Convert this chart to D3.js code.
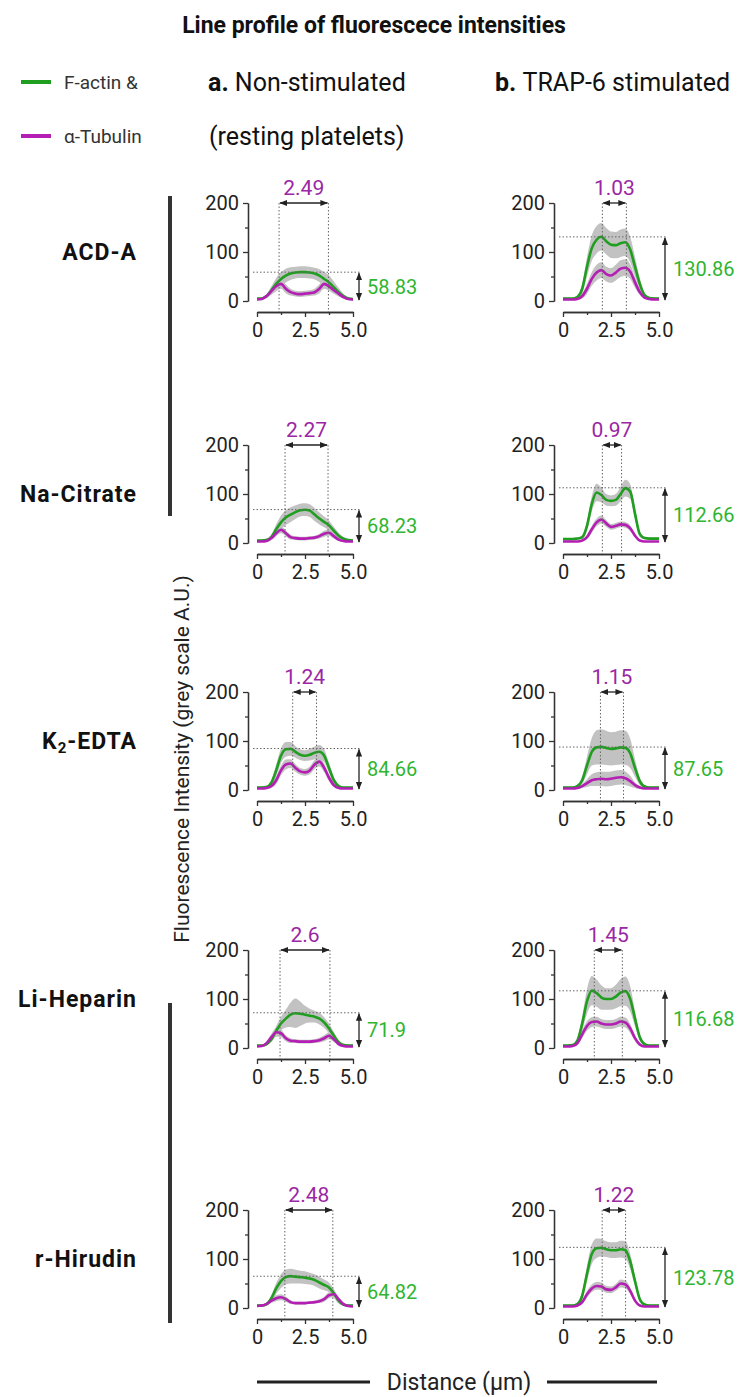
<!DOCTYPE html>
<html><head><meta charset="utf-8">
<script src="https://cdn.jsdelivr.net/npm/d3@7"></script>
<style>body{margin:0;background:#fff} svg{display:block;font-family:Roboto,"Noto Sans",sans-serif}</style>
</head><body><svg id="c" width="747" height="1397"></svg>
<script>
// ---------- data ----------
const distance = [0,0.25,0.5,0.75,1,1.25,1.5,1.75,2,2.25,2.5,2.75,3,3.25,3.5,3.75,4,4.25,4.5,4.75,5];
const anticoagulants = ["ACD-A","Na-Citrate","K2-EDTA","Li-Heparin","r-Hirudin"];
const columnTitles = ["Non-stimulated","TRAP-6 stimulated"];
const yTicks = [0,100,200];
const yMinorTicks = [50,150];
const xTicks = [0,2.5,5];
const xMinorTicks = [1.25,3.75];

// a. non-stimulated
const aACD_actin   = [5,5,10,22,35,45,52,56,58,59,59,58,56,52,45,38,28,18,10,5,4];
const aACD_actinSD = [2,2,4,8,12,14,14,13,12,12,12,12,12,13,14,14,12,9,5,3,2];
const aACD_tub     = [3,4,10,20,30,35,25,18,15,14,15,16,18,25,35,30,22,15,8,4,3];
const aACD_tubSD   = [2,2,4,7,10,10,9,7,6,6,6,6,7,9,10,9,7,5,3,2,2];
const aCIT_actin   = [5,5,6,12,28,42,52,58,63,67,68,66,58,50,43,36,25,15,9,6,5];
const aCIT_actinSD = [2,2,3,6,10,14,15,15,14,13,13,13,13,12,11,10,8,6,4,2,2];
const aCIT_tub     = [3,3,4,10,20,27,20,12,10,9,9,10,11,14,19,21,14,7,4,3,3];
const aCIT_tubSD   = [1,1,2,4,6,7,6,5,4,4,4,4,4,5,6,6,5,3,2,1,1];
const aEDT_actin   = [5,5,6,15,40,70,83,84,78,72,70,72,76,78,70,45,20,8,5,5,5];
const aEDT_actinSD = [2,2,3,6,12,15,15,14,12,11,11,12,13,14,13,10,7,4,2,2,2];
const aEDT_tub     = [3,3,4,8,20,40,52,54,45,38,36,40,52,58,45,25,10,4,3,3,3];
const aEDT_tubSD   = [1,1,2,4,8,10,10,9,8,7,7,8,9,10,9,7,4,2,1,1,1];
const aHEP_actin   = [5,5,8,18,35,50,60,68,71,70,68,66,64,60,52,40,25,12,6,5,5];
const aHEP_actinSD = [2,2,3,6,10,14,18,25,30,25,18,14,12,12,11,10,8,5,3,2,2];
const aHEP_tub     = [3,4,10,22,32,30,20,15,14,13,13,13,14,16,20,25,18,8,4,3,3];
const aHEP_tubSD   = [1,2,4,7,9,8,6,5,4,4,4,4,4,5,6,7,6,3,2,1,1];
const aHIR_actin   = [5,5,8,20,40,55,63,65,64,63,62,60,57,52,47,42,30,15,7,5,5];
const aHIR_actinSD = [2,2,3,7,11,14,15,15,14,13,13,12,12,12,11,10,9,6,3,2,2];
const aHIR_tub     = [4,5,8,15,20,22,18,12,10,10,10,11,12,14,18,26,28,18,8,4,3];
const aHIR_tubSD   = [2,2,3,5,6,6,5,4,3,3,3,3,3,4,5,6,6,5,3,2,2];

// b. TRAP-6 stimulated
const bACD_actin   = [5,5,5,8,25,70,108,125,131,122,115,114,118,120,105,70,35,12,6,5,5];
const bACD_actinSD = [2,2,2,4,10,20,26,28,28,27,27,27,28,28,26,20,12,5,2,2,2];
const bACD_tub     = [3,3,3,4,10,25,45,58,63,55,52,58,66,68,60,38,18,7,4,3,3];
const bACD_tubSD   = [1,1,1,2,5,10,14,16,16,15,15,16,17,17,15,11,6,3,1,1,1];
const bCIT_actin   = [8,8,8,9,12,35,80,103,98,88,86,88,100,112,105,60,18,10,9,9,9];
const bCIT_actinSD = [2,2,2,2,4,10,16,18,15,12,11,12,15,17,15,12,6,3,2,2,2];
const bCIT_tub     = [3,3,3,3,5,12,28,42,48,40,33,35,38,37,30,15,5,3,3,3,3];
const bCIT_tubSD   = [1,1,1,1,2,4,7,8,8,7,6,6,6,6,6,4,2,1,1,1,1];
const bEDT_actin   = [5,5,5,8,20,50,78,87,88,86,84,85,87,86,75,45,18,7,5,5,5];
const bEDT_actinSD = [2,2,2,3,8,18,28,35,36,35,34,34,35,35,30,18,8,3,2,2,2];
const bEDT_tub     = [3,3,3,4,8,14,20,22,23,22,23,25,26,24,18,10,5,3,3,3,3];
const bEDT_tubSD   = [1,1,1,2,4,8,12,14,15,15,15,15,15,14,11,6,3,1,1,1,1];
const bHEP_actin   = [5,5,6,15,50,95,117,112,103,100,100,105,113,116,100,60,22,8,5,5,5];
const bHEP_actinSD = [2,2,2,5,15,25,30,28,25,22,22,24,28,30,26,16,7,3,2,2,2];
const bHEP_tub     = [3,3,4,10,28,45,53,54,50,48,48,50,54,52,40,20,7,3,3,3,3];
const bHEP_tubSD   = [1,1,2,4,8,10,10,10,9,9,9,9,10,10,9,6,3,1,1,1,1];
const bHIR_actin   = [5,5,5,8,25,70,110,122,123,120,118,118,120,118,95,55,18,7,5,5,5];
const bHIR_actinSD = [2,2,2,3,8,16,20,20,18,16,16,16,17,18,16,10,5,2,2,2,2];
const bHIR_tub     = [3,3,3,5,12,28,40,45,44,38,37,42,50,48,35,15,5,3,3,3,3];
const bHIR_tubSD   = [1,1,1,2,4,7,8,8,8,7,7,7,8,8,7,4,2,1,1,1,1];

// tubulin peak positions (µm) and labelled distances
const peaksA = [[1.15,3.72],[1.46,3.7],[1.86,3.1],[1.2,3.8],[1.45,3.95]];
const peaksB = [[2.05,3.3],[2.05,3.05],[1.95,3.15],[1.63,3.09],[2.04,3.26]];
const widthLabelsA = ["2.49","2.27","1.24","2.6","2.48"];
const widthLabelsB = ["1.03","0.97","1.15","1.45","1.22"];
const maxActinA = [58.83,68.23,84.66,71.9,64.82];
const maxActinB = [130.86,112.66,87.65,116.68,123.78];

// ---------- build table ----------
const panels = [
  [aACD_actin,aACD_actinSD,aACD_tub,aACD_tubSD, bACD_actin,bACD_actinSD,bACD_tub,bACD_tubSD],
  [aCIT_actin,aCIT_actinSD,aCIT_tub,aCIT_tubSD, bCIT_actin,bCIT_actinSD,bCIT_tub,bCIT_tubSD],
  [aEDT_actin,aEDT_actinSD,aEDT_tub,aEDT_tubSD, bEDT_actin,bEDT_actinSD,bEDT_tub,bEDT_tubSD],
  [aHEP_actin,aHEP_actinSD,aHEP_tub,aHEP_tubSD, bHEP_actin,bHEP_actinSD,bHEP_tub,bHEP_tubSD],
  [aHIR_actin,aHIR_actinSD,aHIR_tub,aHIR_tubSD, bHIR_actin,bHIR_actinSD,bHIR_tub,bHIR_tubSD]
];

// ---------- layout ----------
const GREEN = "#1f9e1f", MAGENTA = "#b41eb4", GREEN_TXT = "#2fb52f", MAG_TXT = "#9a27a3", BAND = "#c2c2c2", INK = "#222";
const svg = d3.select("#c");
const rowTop = [203,445,692,950,1210];
const colX0 = [257,563];
const PW = 96, PH = 98;

svg.append("defs").append("marker")
  .attr("id","ah").attr("viewBox","0 0 10 10").attr("refX",9).attr("refY",5)
  .attr("markerWidth",6).attr("markerHeight",6).attr("orient","auto-start-reverse")
  .append("path").attr("d","M0,1 L10,5 L0,9 Z").attr("fill",INK);

function drawPanel(x0, y200, actin, actinSD, tub, tubSD, peaks, wLabel, maxV){
  const g = svg.append("g");
  const x = d3.scaleLinear().domain([0,5]).range([x0, x0+PW]);
  const y = d3.scaleLinear().domain([0,200]).range([y200+PH, y200]);
  const band = (m,s) => d3.area().curve(d3.curveMonotoneX)
      .x((d,i)=>x(distance[i])).y0((d,i)=>y(Math.max(0,m[i]-s[i]))).y1((d,i)=>y(m[i]+s[i]));
  const line = m => d3.line().curve(d3.curveMonotoneX).x((d,i)=>x(distance[i])).y((d,i)=>y(m[i]));
  g.append("path").attr("d", band(actin,actinSD)(distance)).attr("fill",BAND);
  g.append("path").attr("d", band(tub,tubSD)(distance)).attr("fill",BAND);
  g.append("path").attr("d", line(actin)(distance)).attr("fill","none").attr("stroke",GREEN).attr("stroke-width",2.6);
  g.append("path").attr("d", line(tub)(distance)).attr("fill","none").attr("stroke",MAGENTA).attr("stroke-width",2.6);

  const axX = x0 - 9, axY = y200 + PH + 11;
  g.append("g").attr("transform",`translate(${axX},0)`)
     .call(d3.axisLeft(y).tickValues(yTicks).tickSize(5).tickSizeOuter(0).tickPadding(4));
  g.append("g").attr("transform",`translate(${axX},0)`)
     .call(d3.axisLeft(y).tickValues(yMinorTicks).tickSize(3).tickSizeOuter(0).tickFormat(""));
  g.append("g").attr("transform",`translate(0,${axY})`)
     .call(d3.axisBottom(x).tickValues(xTicks).tickSize(5).tickSizeOuter(0).tickPadding(6)
       .tickFormat(d => d===0 ? "0" : d.toFixed(1)));
  g.append("g").attr("transform",`translate(0,${axY})`)
     .call(d3.axisBottom(x).tickValues(xMinorTicks).tickSize(3).tickSizeOuter(0).tickFormat(""));
  g.selectAll(".domain, .tick line").attr("stroke","#333").attr("stroke-width",1.3);
  g.selectAll(".tick text").attr("font-size",20).attr("fill",INK).attr("font-family","Roboto");

  // peak markers
  peaks.forEach(p => {
    g.append("line").attr("x1",x(p)).attr("x2",x(p)).attr("y1",y(200)).attr("y2",axY)
      .attr("stroke","#666").attr("stroke-width",1).attr("stroke-dasharray","1.5,2");
  });
  g.append("line").attr("x1",x(peaks[0])+1).attr("x2",x(peaks[1])-1).attr("y1",y(200)).attr("y2",y(200))
    .attr("stroke",INK).attr("stroke-width",1.3).attr("marker-start","url(#ah)").attr("marker-end","url(#ah)");
  g.append("text").attr("x",(x(peaks[0])+x(peaks[1]))/2).attr("y",y(200)-8)
    .attr("text-anchor","middle").attr("font-size",21).attr("fill",MAG_TXT).text(wLabel);

  // actin maximum
  const arX = x(5)+6;
  g.append("line").attr("x1",x0-4).attr("x2",arX+2).attr("y1",y(maxV)).attr("y2",y(maxV))
    .attr("stroke","#666").attr("stroke-width",1).attr("stroke-dasharray","1.5,2");
  g.append("line").attr("x1",arX).attr("x2",arX).attr("y1",y(maxV)+1).attr("y2",y(0)-1)
    .attr("stroke",INK).attr("stroke-width",1.3).attr("marker-start","url(#ah)").attr("marker-end","url(#ah)");
  g.append("text").attr("x",arX+8).attr("y",(y(maxV)+y(0))/2).attr("dy","0.35em")
    .attr("font-size",20).attr("fill",GREEN_TXT).text(String(maxV));
}

panels.forEach((r,i) => {
  drawPanel(colX0[0], rowTop[i], r[0], r[1], r[2], r[3], peaksA[i], widthLabelsA[i], maxActinA[i]);
  drawPanel(colX0[1], rowTop[i], r[4], r[5], r[6], r[7], peaksB[i], widthLabelsB[i], maxActinB[i]);
});

// row labels
anticoagulants.forEach((name,i) => {
  const t = svg.append("text").attr("x",137).attr("y",rowTop[i]+PH/2).attr("dy","0.35em")
    .attr("text-anchor","end").attr("font-size",23).attr("font-weight","bold")
    .attr("letter-spacing",1).attr("fill","#111");
  if (name === "K2-EDTA") {
    t.append("tspan").text("K");
    t.append("tspan").attr("font-size",15).attr("dy",4).text("2");
    t.append("tspan").attr("dy",-4).text("-EDTA");
  } else t.text(name);
});

// grouping bars
svg.append("rect").attr("x",168).attr("y",196).attr("width",4).attr("height",320).attr("fill","#333");
svg.append("rect").attr("x",168).attr("y",1003).attr("width",4).attr("height",320).attr("fill","#333");

// y axis title
svg.append("text").attr("transform","translate(182,759) rotate(-90)")
  .attr("text-anchor","middle").attr("dy","0.35em").attr("font-size",21).attr("fill",INK)
  .text("Fluorescence Intensity (grey scale A.U.)");

// x axis title with lines
svg.append("text").attr("x",459).attr("y",1382).attr("dy","0.35em").attr("text-anchor","middle")
  .attr("font-size",23).attr("fill",INK).text("Distance (µm)");
svg.append("line").attr("x1",257).attr("x2",370).attr("y1",1382).attr("y2",1382).attr("stroke",INK).attr("stroke-width",3);
svg.append("line").attr("x1",547).attr("x2",657).attr("y1",1382).attr("y2",1382).attr("stroke",INK).attr("stroke-width",3);

// title
svg.append("text").attr("x",374).attr("y",25).attr("dy","0.35em").attr("text-anchor","middle")
  .attr("font-size",23).attr("font-weight","bold").attr("fill","#111").text("Line profile of fluorescece intensities");

// legend
const legend = [["F-actin &",GREEN,82],["α-Tubulin",MAGENTA,136]];
legend.forEach(([lab,col,yy]) => {
  svg.append("line").attr("x1",21).attr("x2",51).attr("y1",yy).attr("y2",yy).attr("stroke",col).attr("stroke-width",4);
  svg.append("text").attr("x",64).attr("y",yy).attr("dy","0.35em").attr("font-size",19).attr("fill","#333").text(lab);
});

// column headers
const h1 = svg.append("text").attr("x",208).attr("y",82).attr("dy","0.35em").attr("font-size",25).attr("fill","#111");
h1.append("tspan").attr("font-weight","bold").text("a. ");
h1.append("tspan").text(columnTitles[0]);
svg.append("text").attr("x",209).attr("y",136).attr("dy","0.35em").attr("font-size",25).attr("fill","#111").text("(resting platelets)");
const h2 = svg.append("text").attr("x",495).attr("y",82).attr("dy","0.35em").attr("font-size",25).attr("fill","#111");
h2.append("tspan").attr("font-weight","bold").text("b. ");
h2.append("tspan").text(columnTitles[1]);
</script></body></html>
